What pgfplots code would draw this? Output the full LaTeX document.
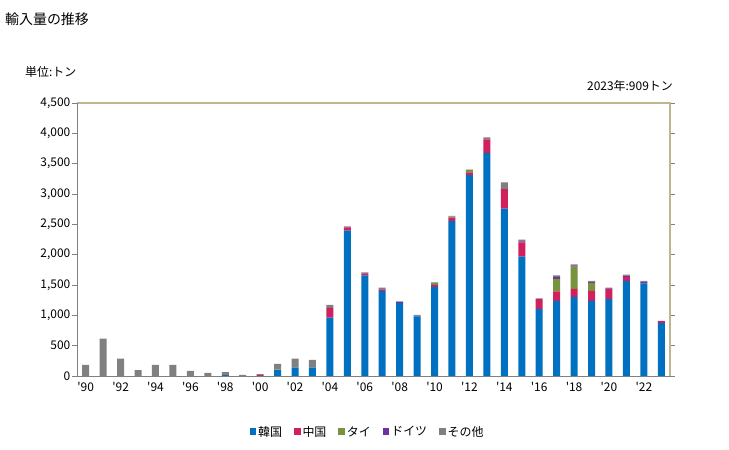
\documentclass[border=0pt]{standalone}
\usepackage{pgfplots}
\pgfplotsset{compat=1.18}
\usepackage{pgfplotstable}
\usepackage{fontspec}
\setmainfont{Noto Sans CJK JP}[Ligatures=TeXOff]
\definecolor{cKor}{HTML}{0070C0}
\definecolor{cChn}{HTML}{D0205E}
\definecolor{cTha}{HTML}{77933C}
\definecolor{cGer}{HTML}{7030A0}
\definecolor{cOth}{HTML}{808080}
\definecolor{frameTan}{HTML}{BFB58F}
\pgfplotstableread{
year kor chn tha ger oth
1990 0 0 0 0 182
1991 0 0 0 0 617
1992 0 0 0 0 287
1993 0 0 0 0 99
1994 0 0 0 0 182
1995 0 0 0 0 182
1996 0 0 0 0 83
1997 0 0 0 0 50
1998 15 0 0 0 51
1999 0 0 0 0 17
2000 0 15 0 0 18
2001 99 0 5 0 94
2002 138 0 0 0 149
2003 138 0 0 0 126
2004 962 162 0 0 50
2005 2397 55 0 0 16
2006 1658 34 0 0 16
2007 1405 22 0 0 28
2008 1201 0 0 17 11
2009 981 0 0 16 11
2010 1471 33 28 0 11
2011 2551 61 15 0 12
2012 3312 44 40 0 5
2013 3675 226 0 0 33
2014 2761 319 0 0 110
2015 1967 237 0 17 27
2016 1108 159 0 0 11
2017 1240 154 209 33 22
2018 1306 132 364 22 16
2019 1240 165 132 17 16
2020 1273 160 0 11 11
2021 1570 66 0 17 17
2022 1526 0 0 28 16
2023 876 28 0 0 5
}\data
\begin{document}
\begin{tikzpicture}
\path[use as bounding box] (0bp,0bp) rectangle (729bp,-450bp);
\node[anchor=west, font=\fontsize{14}{16}\selectfont, inner sep=0] at (5bp,-19.5bp) {輸入量の推移};
\node[anchor=west, font=\fontsize{12}{14}\selectfont, inner sep=0] at (25bp,-71.5bp) {単位:トン};
\node[anchor=east, font=\fontsize{12}{14}\selectfont, inner sep=0] at (673bp,-86bp) {2023年:909トン};
\begin{axis}[
  at={(77bp,-376bp)}, anchor=south west,
  scale only axis, width=593bp, height=273bp,
  xmin=1989.5, xmax=2023.5, ymin=0, ymax=4500,
  ybar stacked, bar width=7bp,
  axis line style={draw=none},
  ytick={0,500,...,4500},
  xtick={1990,1992,...,2022},
  xticklabels={'90,'92,'94,'96,'98,'00,'02,'04,'06,'08,'10,'12,'14,'16,'18,'20,'22},
  tick style={color=cOth, line width=0.8bp},
  tick align=outside,
  major tick length=5bp,
  x tick style={draw=none},
  /pgf/number format/assume math mode=true,
  /pgf/number format/1000 sep={,},
  scaled y ticks=false,
  tick label style={font=\fontsize{12}{14}\selectfont},
  yticklabel style={inner sep=1.5bp},
  xticklabel style={inner sep=1bp},
  legend style={at={(rel axis cs:0.49,-0.205)}, anchor=center, draw=none,
    font=\fontsize{12}{14}\selectfont, legend columns=5,
    /tikz/every even column/.append style={column sep=10bp},
    inner sep=0pt},
  legend image code/.code={\fill[#1] (0bp,-3bp) rectangle (6.5bp,3.5bp);},
  legend cell align=left,
  every axis plot/.append style={draw=none},
  after end axis/.code={
    \draw[frameTan, line width=1.1bp] (rel axis cs:0,1) -- (rel axis cs:1,1) -- (rel axis cs:1,0);
    \draw[cOth, line width=1bp] (rel axis cs:0,1) -- (rel axis cs:0,0) -- (rel axis cs:1,0);
  },
]
\addplot[fill=cKor] table[x=year,y=kor] {\data};
\addplot[fill=cChn] table[x=year,y=chn] {\data};
\addplot[fill=cTha] table[x=year,y=tha] {\data};
\addplot[fill=cGer] table[x=year,y=ger] {\data};
\addplot[fill=cOth] table[x=year,y=oth] {\data};
\legend{韓国,中国,タイ,ドイツ,その他}
\end{axis}
\end{tikzpicture}
\end{document}
